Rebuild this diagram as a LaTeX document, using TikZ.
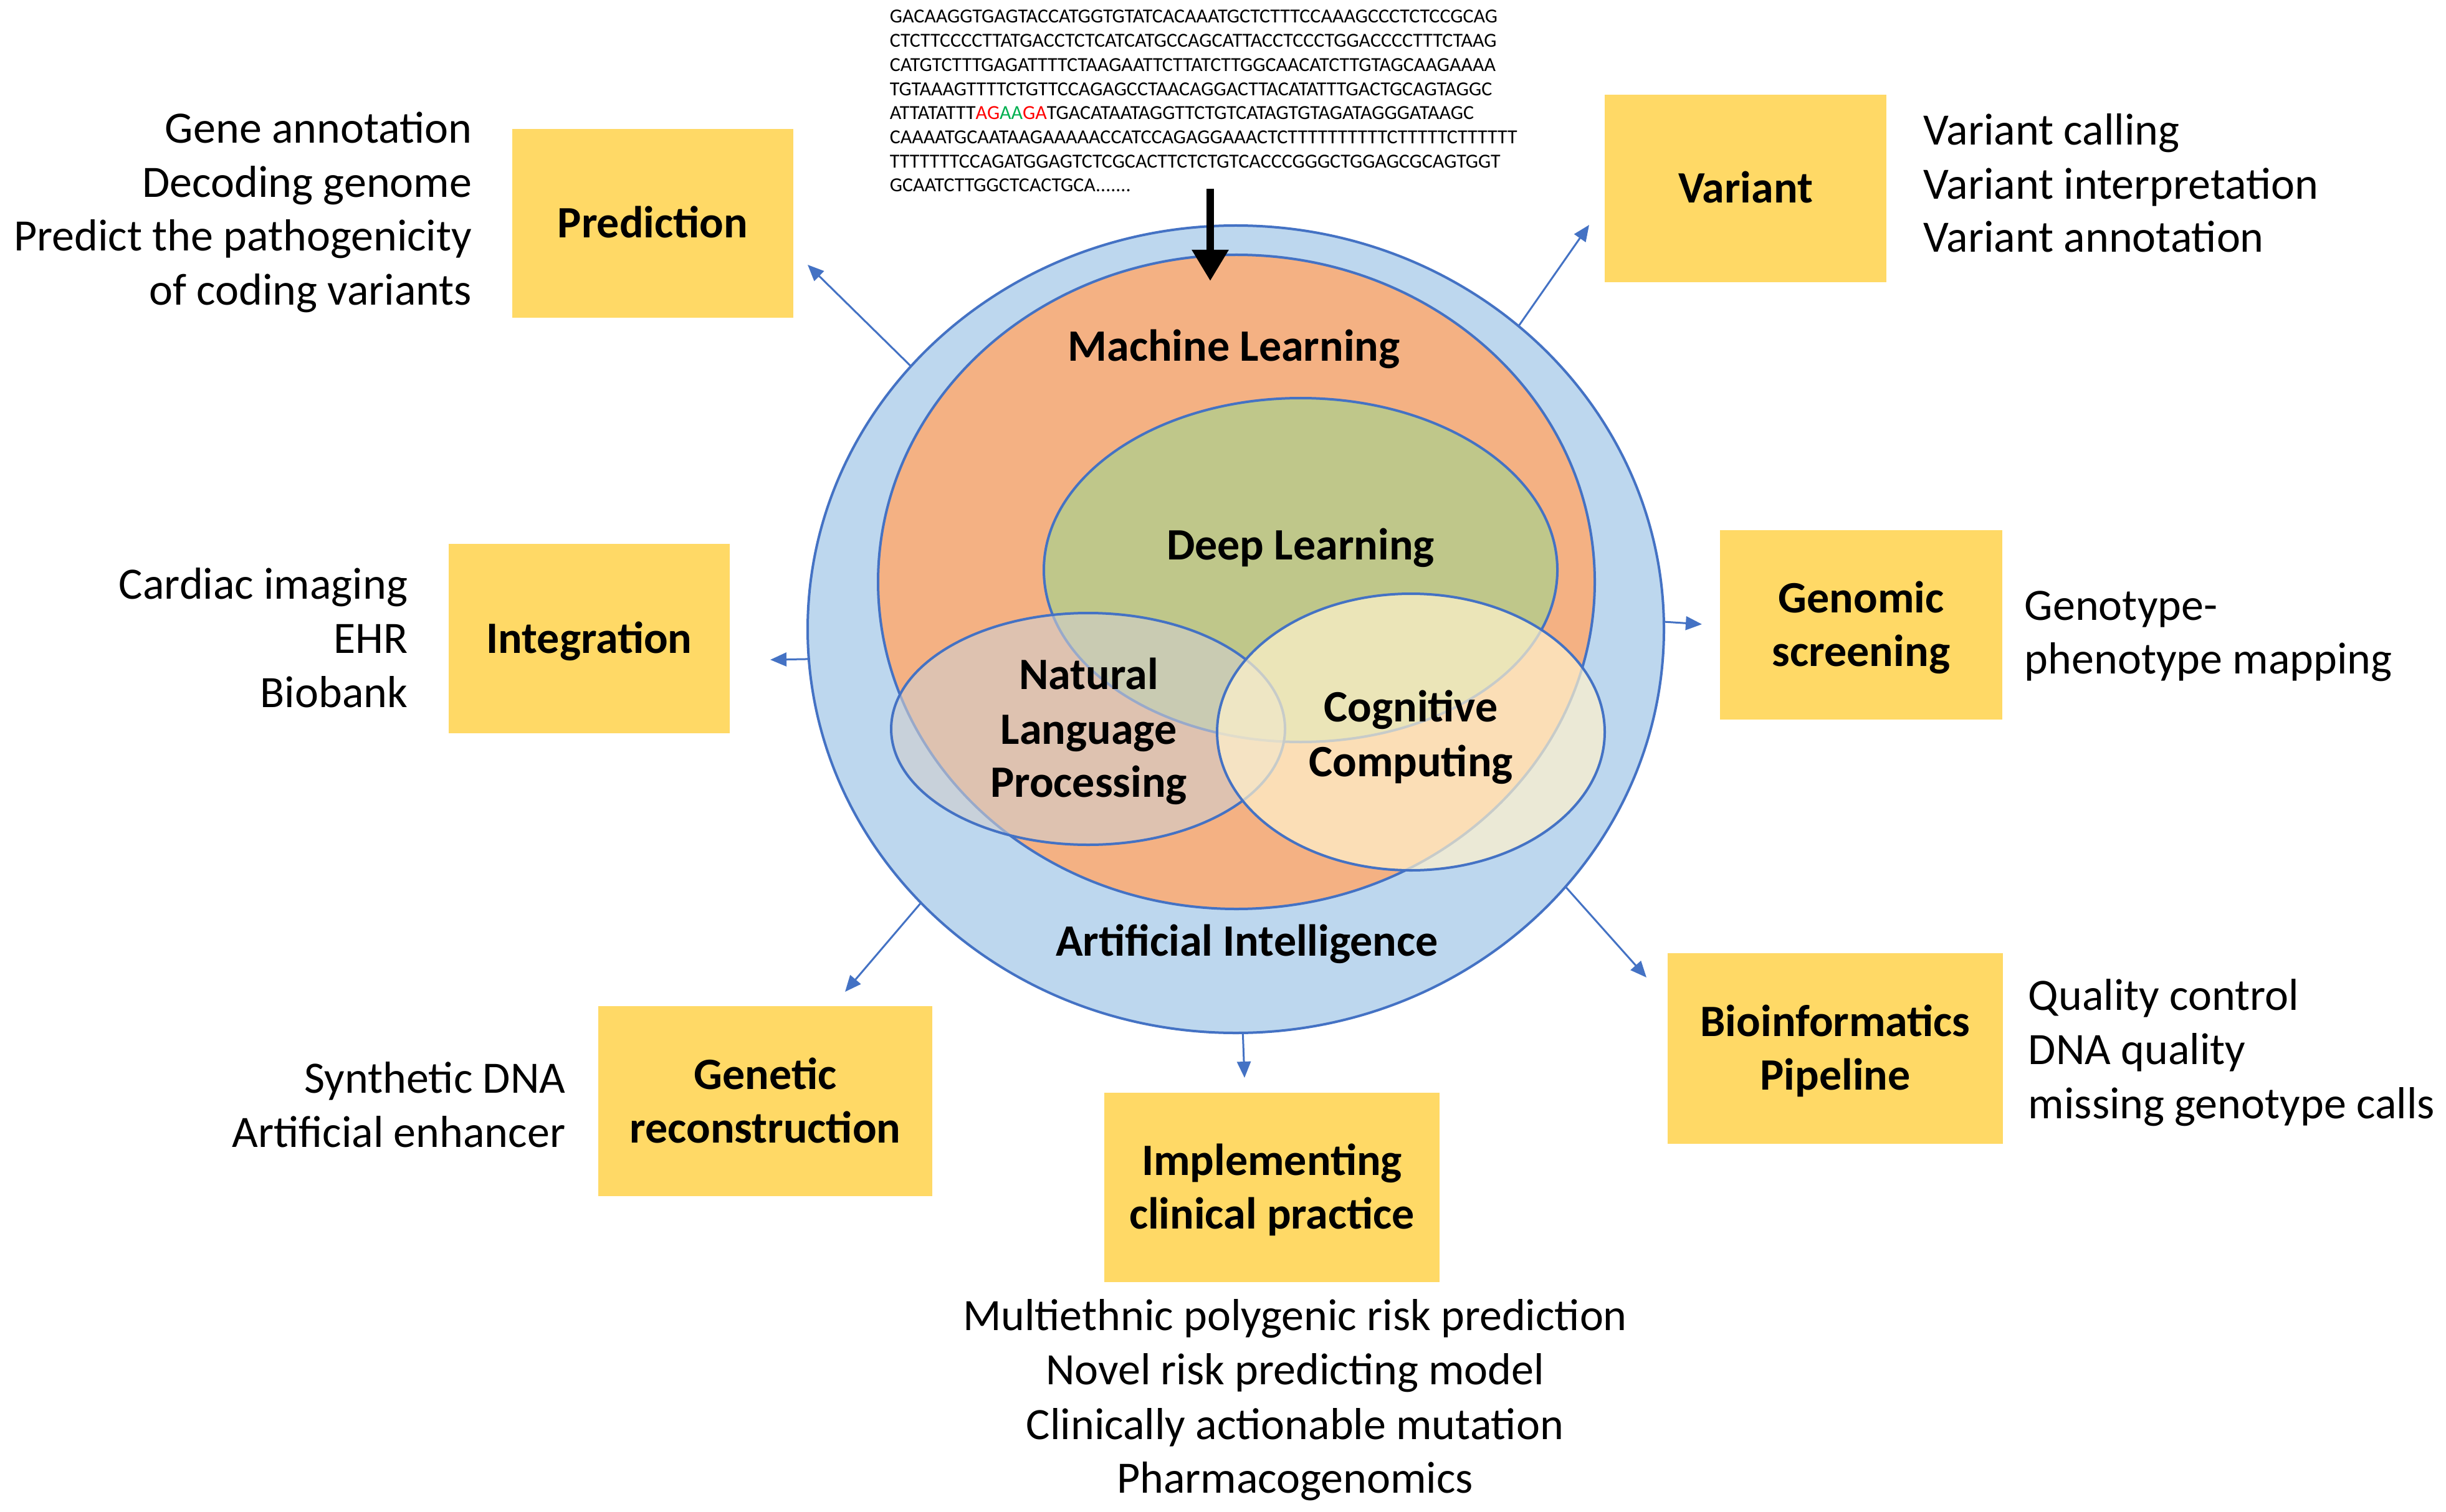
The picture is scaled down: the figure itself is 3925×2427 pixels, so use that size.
\documentclass[tikz,border=0pt]{standalone}
\usepackage{fontspec}
\setmainfont{Carlito}
\usetikzlibrary{shapes.geometric,arrows.meta}
\definecolor{aiblue}{HTML}{BDD7EE}
\definecolor{edgeblue}{HTML}{4472C4}
\definecolor{mlorange}{HTML}{F4B183}
\definecolor{dlgreen}{HTML}{A9D18E}
\definecolor{nlpgrey}{HTML}{D0CECE}
\definecolor{cccream}{HTML}{FFF2CC}
\definecolor{boxgold}{HTML}{FFD966}
\definecolor{dnared}{HTML}{FF0000}
\definecolor{dnagreen}{HTML}{00B050}
\newcommand{\bxstrut}{\rule[-3.75pt]{0pt}{19.25pt}}
\begin{document}
\begin{tikzpicture}[x=0.25pt,y=-0.25pt,
  blob/.style={ellipse, draw=edgeblue, line width=1pt, inner sep=0pt, outer sep=0pt},
  topic/.style={rectangle, fill=boxgold, inner sep=0pt, outer sep=0pt, align=center,
    font=\fontsize{18pt}{21.5pt}\selectfont\bfseries},
  lbl/.style={font=\fontsize{18pt}{21.5pt}\selectfont\bfseries, inner sep=0pt, anchor=base},
  lefttxt/.style={font=\fontsize{18pt}{21.5pt}\selectfont, inner sep=0pt, anchor=base east},
  righttxt/.style={font=\fontsize{18pt}{21.5pt}\selectfont, inner sep=0pt, anchor=base west},
  midtxt/.style={font=\fontsize{18pt}{21.5pt}\selectfont, inner sep=0pt, anchor=base},
  dnatxt/.style={font=\fontsize{8pt}{9.7pt}\selectfont, inner sep=0pt, anchor=base west},
  link/.style={draw=edgeblue, line width=0.75pt, -{Triangle[length=6.5pt,width=5.5pt]}},
  feed/.style={draw=black, line width=3pt, -{Triangle[length=12.5pt,width=14pt]}}
]
\fill[white] (0,0) rectangle (3925,2427);
\useasboundingbox (0,0) rectangle (3925,2427);

% DNA sequence
\node[dnatxt] (dna1) at (1427,37) {GACAAGGTGAGTACCATGGTGTATCACAAATGCTCTTTCCAAAGCCCTCTCCGCAG};
\node[dnatxt] (dna2) at (1427,75.7) {CTCTTCCCCTTATGACCTCTCATCATGCCAGCATTACCTCCCTGGACCCCTTTCTAAG};
\node[dnatxt] (dna3) at (1427,114.4) {CATGTCTTTGAGATTTTCTAAGAATTCTTATCTTGGCAACATCTTGTAGCAAGAAAA};
\node[dnatxt] (dna4) at (1427,153.1) {TGTAAAGTTTTCTGTTCCAGAGCCTAACAGGACTTACATATTTGACTGCAGTAGGC};
\node[dnatxt] (dna5) at (1427,191.8) {ATTATATTT\textcolor{dnared}{AG}\textcolor{dnagreen}{AA}\textcolor{dnared}{GA}TGACATAATAGGTTCTGTCATAGTGTAGATAGGGATAAGC};
\node[dnatxt] (dna6) at (1427,230.5) {CAAAATGCAATAAGAAAAACCATCCAGAGGAAACTCTTTTTTTTTTCTTTTTCTTTTTT};
\node[dnatxt] (dna7) at (1427,269.2) {TTTTTTTCCAGATGGAGTCTCGCACTTCTCTGTCACCCGGGCTGGAGCGCAGTGGT};
\node[dnatxt] (dna8) at (1427,307.9) {GCAATCTTGGCTCACTGCA.......};

% nested sets
\node[blob, fill=aiblue, minimum width=343.5pt, minimum height=324pt] (ai) at (1983,1010) {};
\node[blob, fill=mlorange, minimum width=287.5pt, minimum height=262.5pt] (ml) at (1984,934) {};
\node[blob, fill=dlgreen, fill opacity=0.7, minimum width=206pt, minimum height=138pt] (dl) at (2087,915) {};
\node[blob, fill=nlpgrey, fill opacity=0.6, minimum width=158pt, minimum height=93pt] (nlp) at (1746,1170) {};
\node[blob, fill=cccream, fill opacity=0.7, minimum width=155.5pt, minimum height=111pt] (cc) at (2264,1175) {};

% labels inside the sets
\node[lbl] (mlA) at (1980,580) {Machine Learning};
\node[lbl] (dlA) at (2087,898) {Deep Learning};
\node[lbl] (nlpA) at (1747,1106) {Natural};
\node[lbl] (nlpB) at (1747,1194) {Language};
\node[lbl] (nlpC) at (1747,1279) {Processing};
\node[lbl] (ccA) at (2264,1158) {Cognitive};
\node[lbl] (ccB) at (2264,1246) {Computing};
\node[lbl] (aiA) at (2001,1534) {Artificial Intelligence};

% input arrow
\coordinate (dnaEnd) at (1942,303);
\coordinate (dnaTip) at (1942,451);
\draw[feed] (dnaEnd) -- (dnaTip);

% topic boxes
\node[topic, minimum width=112.75pt, minimum height=75.75pt] (pred) at (1047.5,358.5) {\bxstrut Prediction};
\node[topic, minimum width=113pt, minimum height=75.25pt] (vari) at (2801,302.5) {\bxstrut Variant};
\node[topic, minimum width=112.75pt, minimum height=76pt] (integ) at (945.5,1025) {\bxstrut Integration};
\node[topic, minimum width=113.25pt, minimum height=76pt] (gscr) at (2986.5,1003) {\bxstrut Genomic\\\bxstrut screening};
\node[topic, minimum width=134pt, minimum height=76.25pt] (grec) at (1228,1767.5) {\bxstrut Genetic\\\bxstrut reconstruction};
\node[topic, minimum width=134.5pt, minimum height=76.5pt] (bio) at (2945,1683) {\bxstrut Bioinformatics\\\bxstrut Pipeline};
\node[topic, minimum width=134.5pt, minimum height=76pt] (impl) at (2041,1906) {\bxstrut Implementing\\\bxstrut clinical practice};

% connectors
\coordinate (tipPred) at (1296,425);
\coordinate (tipVari) at (2550,361);
\coordinate (tipInteg) at (1236,1059);
\coordinate (tipGscr) at (2731,1002);
\coordinate (tipGrec) at (1356,1592);
\coordinate (tipBio) at (2642,1569);
\coordinate (tipImpl) at (1997,1730);
\draw[link] (ai.141) -- (tipPred);
\draw[link] (ai.47) -- (tipVari);
\draw[link] (ai.184) -- (tipInteg);
\draw[link] (ai.1) -- (tipGscr);
\draw[link] (ai.221) -- (tipGrec);
\draw[link] (ai.322) -- (tipBio);
\draw[link] (ai.271) -- (tipImpl);

% descriptive texts
\node[lefttxt] (p1) at (758,230) {Gene annotation};
\node[lefttxt] (p2) at (758,317) {Decoding genome};
\node[lefttxt] (p3) at (758,403) {Predict the pathogenicity};
\node[lefttxt] (p4) at (758,490) {of coding variants};

\node[righttxt] (v1) at (3086,233) {Variant calling};
\node[righttxt] (v2) at (3086,320) {Variant interpretation};
\node[righttxt] (v3) at (3086,405) {Variant annotation};

\node[lefttxt] (i1) at (655,961) {Cardiac imaging};
\node[lefttxt] (i2) at (655,1048) {EHR};
\node[lefttxt] (i3) at (655,1135) {Biobank};

\node[righttxt] (g1) at (3248,995) {Genotype-};
\node[righttxt] (g2) at (3248,1081) {phenotype mapping};

\node[lefttxt] (r1) at (908,1754) {Synthetic DNA};
\node[lefttxt] (r2) at (908,1841) {Artificial enhancer};

\node[righttxt] (b1) at (3254,1621) {Quality control};
\node[righttxt] (b2) at (3254,1708) {DNA quality};
\node[righttxt] (b3) at (3254,1795) {missing genotype calls};

\node[midtxt] (c1) at (2078,2135) {Multiethnic polygenic risk prediction};
\node[midtxt] (c2) at (2078,2222) {Novel risk predicting model};
\node[midtxt] (c3) at (2078,2310) {Clinically actionable mutation};
\node[midtxt] (c4) at (2078,2396) {Pharmacogenomics};
\end{tikzpicture}
\end{document}
